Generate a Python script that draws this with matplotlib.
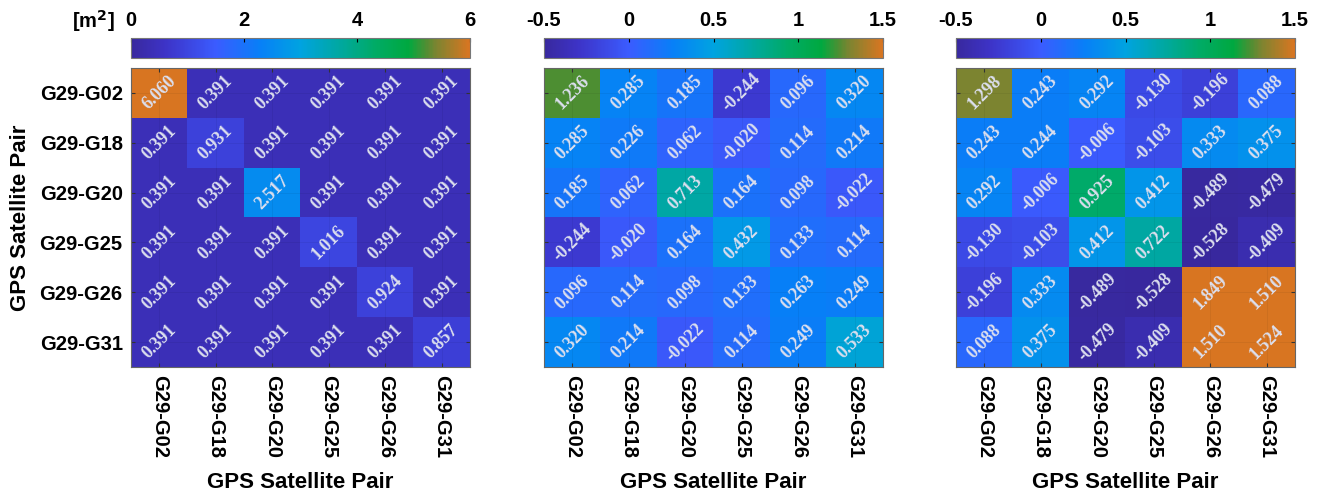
import numpy as np
import matplotlib
matplotlib.use('Agg')
import matplotlib.pyplot as plt
from matplotlib.colors import LinearSegmentedColormap

# 卫星对标签
pairs = ['G29-G02', 'G29-G18', 'G29-G20', 'G29-G25', 'G29-G26', 'G29-G31']

# 三个矩阵
mat_a = [
    [6.060, 0.391, 0.391, 0.391, 0.391, 0.391],
    [0.391, 0.931, 0.391, 0.391, 0.391, 0.391],
    [0.391, 0.391, 2.517, 0.391, 0.391, 0.391],
    [0.391, 0.391, 0.391, 1.016, 0.391, 0.391],
    [0.391, 0.391, 0.391, 0.391, 0.924, 0.391],
    [0.391, 0.391, 0.391, 0.391, 0.391, 0.857],
]
mat_b = [
    [1.236, 0.285, 0.185, -0.244, 0.096, 0.320],
    [0.285, 0.226, 0.062, -0.020, 0.114, 0.214],
    [0.185, 0.062, 0.713, 0.164, 0.098, -0.022],
    [-0.244, -0.020, 0.164, 0.432, 0.133, 0.114],
    [0.096, 0.114, 0.098, 0.133, 0.263, 0.249],
    [0.320, 0.214, -0.022, 0.114, 0.249, 0.533],
]
mat_c = [
    [1.298, 0.243, 0.292, -0.130, -0.196, 0.088],
    [0.243, 0.244, -0.006, -0.103, 0.333, 0.375],
    [0.292, -0.006, 0.925, 0.412, -0.489, -0.479],
    [-0.130, -0.103, 0.412, 0.722, -0.528, -0.409],
    [-0.196, 0.333, -0.489, -0.528, 1.849, 1.510],
    [0.088, 0.375, -0.479, -0.409, 1.510, 1.524],
]

limits = [(0, 6), (-0.5, 1.5), (-0.5, 1.5)]
cb_ticks = [[0, 2, 4, 6], [-0.5, 0, 0.5, 1, 1.5], [-0.5, 0, 0.5, 1, 1.5]]

# 自定义颜色表（类似 parula，末端为橙色）
nodes = [
    (0.00, (0.22, 0.16, 0.62)),
    (0.10, (0.24, 0.20, 0.78)),
    (0.25, (0.23, 0.36, 1.00)),
    (0.38, (0.03, 0.50, 0.97)),
    (0.50, (0.00, 0.64, 0.88)),
    (0.62, (0.00, 0.66, 0.62)),
    (0.72, (0.00, 0.67, 0.40)),
    (0.82, (0.00, 0.66, 0.25)),
    (0.87, (0.30, 0.56, 0.20)),
    (0.90, (0.48, 0.52, 0.19)),
    (1.00, (0.85, 0.46, 0.13)),
]
cmap = LinearSegmentedColormap.from_list('parula_orange', nodes)

W, H = 1320, 492
fig = plt.figure(figsize=(W / 100, H / 100), dpi=100)

def px_axes(x0, y0, x1, y1):
    return fig.add_axes([x0 / W, 1 - y1 / H, (x1 - x0) / W, (y1 - y0) / H])

lefts = [131, 544, 956]
pw = 339
label_font = ['Liberation Sans', 'DejaVu Sans']
cell_font = ['Liberation Serif', 'DejaVu Serif']

for i, (mat, lim) in enumerate(zip([mat_a, mat_b, mat_c], limits)):
    data = np.array(mat)
    x0 = lefts[i]
    ax = px_axes(x0, 68, x0 + pw, 367)
    im = ax.imshow(data, cmap=cmap, vmin=lim[0], vmax=lim[1], aspect='auto')
    n = len(pairs)
    for r in range(n):
        for c in range(n):
            ax.text(c, r, f'{data[r, c]:.3f}', rotation=45, ha='center', va='center',
                    color='#dcdfee', fontsize=13, fontweight='bold', family=cell_font)
    ax.set_xticks(range(n))
    ax.set_yticks(range(n))
    ax.set_xticklabels(pairs, rotation=270, fontsize=14.5, fontweight='bold', family=label_font)
    if i == 0:
        ax.set_yticklabels(pairs, fontsize=14.5, fontweight='bold', family=label_font)
        ax.set_ylabel('GPS Satellite Pair', fontsize=16, fontweight='bold', family=label_font, labelpad=6)
    else:
        ax.set_yticklabels([])
    ax.set_xlabel('GPS Satellite Pair', fontsize=16, fontweight='bold', family=label_font, labelpad=10)
    ax.tick_params(direction='in', length=3, top=True, right=True, color='#333333', pad=6)
    ax.grid(True, color='black', alpha=0.06, linewidth=0.6)
    for s in ax.spines.values():
        s.set_color('#666666')
        s.set_linewidth(0.8)

    # 顶部颜色条
    cax = px_axes(x0, 38, x0 + pw, 58)
    cb = fig.colorbar(im, cax=cax, orientation='horizontal')
    cb.set_ticks(cb_ticks[i])
    cb.set_ticklabels([f'{t:g}' for t in cb_ticks[i]])
    cax.xaxis.set_ticks_position('top')
    cax.tick_params(direction='in', length=3, labelsize=14.5, pad=6)
    for lab in cax.get_xticklabels():
        lab.set_fontweight('bold')
        lab.set_family(label_font)
    cb.outline.set_edgecolor('#777777')
    cb.outline.set_linewidth(0.8)

fig.text(93 / W, 1 - 21 / H, '[m$^\\mathbf{2}$]', ha='center', va='center',
         fontsize=14.5, fontweight='bold', family=label_font)

fig.savefig('out.png', dpi=100)
